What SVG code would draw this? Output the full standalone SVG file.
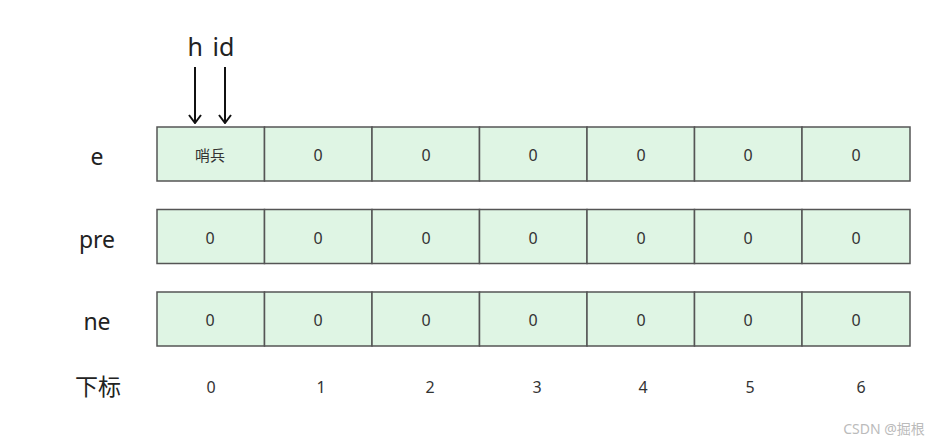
<svg xmlns="http://www.w3.org/2000/svg" width="938" height="447" viewBox="0 0 938 447">
<defs>
<style>
.cell{fill:#dff5e4;stroke:#555;stroke-width:1.5}
.ct{font-family:"Noto Sans","Noto Sans CJK SC",sans-serif;font-size:16px;fill:#333;text-anchor:middle;dominant-baseline:central}
.lbl{font-family:"Noto Sans","Noto Sans CJK SC",sans-serif;font-size:23px;fill:#222;text-anchor:middle;dominant-baseline:central}
.idx{font-family:"Noto Sans",sans-serif;font-size:16px;fill:#333;text-anchor:middle;dominant-baseline:central}
.arr{stroke:#111;stroke-width:2;fill:none}
</style>
<marker id="ah" viewBox="0 0 12 14" refX="11" refY="7" markerWidth="12" markerHeight="14" markerUnits="userSpaceOnUse" orient="auto">
<path d="M3,1 L11,7 L3,13" fill="none" stroke="#111" stroke-width="2"/>
</marker>
</defs>
<rect width="938" height="447" fill="#fff"/>
<g id="labels">
<text class="lbl" x="97" y="156">e</text>
<text class="lbl" x="97" y="239">pre</text>
<text class="lbl" x="97" y="321">ne</text>
<text class="lbl" x="98" y="386">下标</text>
<text class="lbl" x="211" y="46" style="font-size:25px;word-spacing:3px">h id</text>
</g>
<g id="row-e">
<rect class="cell" x="157" y="127" width="107.5" height="54"/>
<rect class="cell" x="264.5" y="127" width="107.5" height="54"/>
<rect class="cell" x="372" y="127" width="107.5" height="54"/>
<rect class="cell" x="479.5" y="127" width="107.5" height="54"/>
<rect class="cell" x="587" y="127" width="107.5" height="54"/>
<rect class="cell" x="694.5" y="127" width="107.5" height="54"/>
<rect class="cell" x="802" y="127" width="108" height="54"/>
<text class="ct" x="210" y="155" style="font-size:15px">哨兵</text>
<text class="ct" x="318" y="155">0</text>
<text class="ct" x="426" y="155">0</text>
<text class="ct" x="533" y="155">0</text>
<text class="ct" x="641" y="155">0</text>
<text class="ct" x="748" y="155">0</text>
<text class="ct" x="856" y="155">0</text>
</g>
<g id="row-pre">
<rect class="cell" x="157" y="209.5" width="107.5" height="54"/>
<rect class="cell" x="264.5" y="209.5" width="107.5" height="54"/>
<rect class="cell" x="372" y="209.5" width="107.5" height="54"/>
<rect class="cell" x="479.5" y="209.5" width="107.5" height="54"/>
<rect class="cell" x="587" y="209.5" width="107.5" height="54"/>
<rect class="cell" x="694.5" y="209.5" width="107.5" height="54"/>
<rect class="cell" x="802" y="209.5" width="108" height="54"/>
<text class="ct" x="210" y="238">0</text>
<text class="ct" x="318" y="238">0</text>
<text class="ct" x="426" y="238">0</text>
<text class="ct" x="533" y="238">0</text>
<text class="ct" x="641" y="238">0</text>
<text class="ct" x="748" y="238">0</text>
<text class="ct" x="856" y="238">0</text>
</g>
<g id="row-ne">
<rect class="cell" x="157" y="292" width="107.5" height="54"/>
<rect class="cell" x="264.5" y="292" width="107.5" height="54"/>
<rect class="cell" x="372" y="292" width="107.5" height="54"/>
<rect class="cell" x="479.5" y="292" width="107.5" height="54"/>
<rect class="cell" x="587" y="292" width="107.5" height="54"/>
<rect class="cell" x="694.5" y="292" width="107.5" height="54"/>
<rect class="cell" x="802" y="292" width="108" height="54"/>
<text class="ct" x="210" y="320">0</text>
<text class="ct" x="318" y="320">0</text>
<text class="ct" x="426" y="320">0</text>
<text class="ct" x="533" y="320">0</text>
<text class="ct" x="641" y="320">0</text>
<text class="ct" x="748" y="320">0</text>
<text class="ct" x="856" y="320">0</text>
</g>
<g id="index">
<text class="idx" x="211" y="387">0</text>
<text class="idx" x="321" y="387">1</text>
<text class="idx" x="430" y="387">2</text>
<text class="idx" x="537" y="387">3</text>
<text class="idx" x="643" y="387">4</text>
<text class="idx" x="750" y="387">5</text>
<text class="idx" x="861" y="387">6</text>
</g>
<g id="connectors">
<line class="arr" x1="195" y1="67" x2="195" y2="123" marker-end="url(#ah)"/>
<line class="arr" x1="225" y1="67" x2="225" y2="123" marker-end="url(#ah)"/>
</g>
<text x="884" y="434" style="font-family:'Noto Sans','Noto Sans CJK SC',sans-serif;font-size:14px;fill:#bbb;text-anchor:middle">CSDN @掘根</text>
</svg>
